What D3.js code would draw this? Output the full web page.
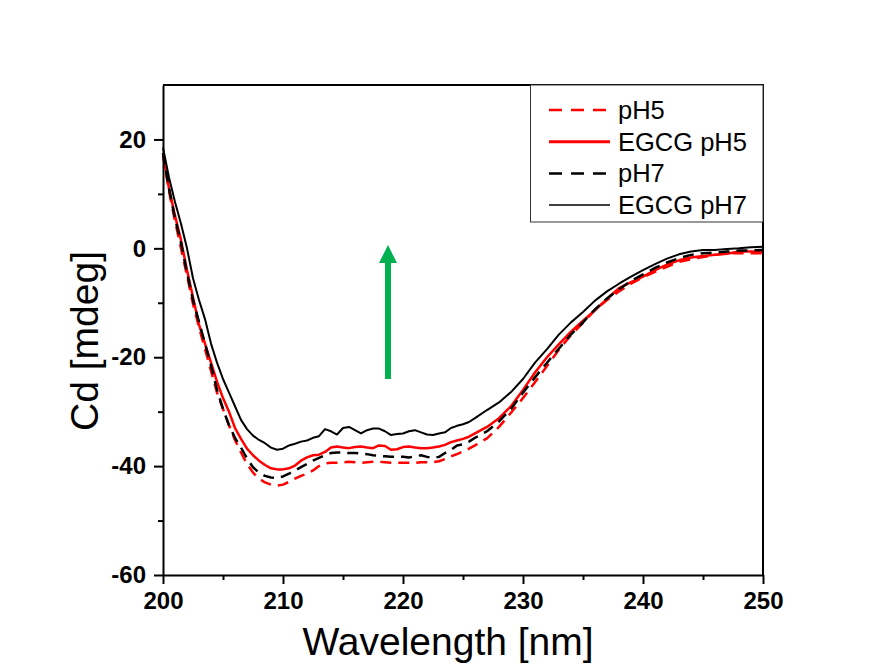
<!DOCTYPE html>
<html>
<head>
<meta charset="utf-8">
<script src="https://cdn.jsdelivr.net/npm/d3@7"></script>
<style>
    body { margin: 0; background: #fff; }
    text { font-family: "Liberation Sans", Arial, sans-serif; }
</style>
</head>
<body>
<div id="chart"></div>
<script>
// wavelength grid [nm]
const wavelength = [
    200, 200.5, 201, 201.5, 202, 202.5, 203, 203.5, 204, 204.5,
    205, 205.5, 206, 206.5, 207, 207.5, 208, 208.5, 209, 209.5,
    210, 210.5, 211, 211.5, 212, 212.5, 213, 213.5, 214, 214.5,
    215, 215.5, 216, 216.5, 217, 217.5, 218, 218.5, 219, 219.5,
    220, 220.5, 221, 221.5, 222, 222.5, 223, 223.5, 224, 224.5,
    225, 225.5, 226,
    227, 228, 229, 230, 231, 232, 233, 234, 235, 236, 237, 238,
    239, 240, 241, 242, 243, 244, 245, 246, 247, 248, 249, 250
];

// CD signal [mdeg] for each sample
const pH5 = [
    17, 10.5, 5, 0, -5, -10.2, -14.5, -18.5, -22.5, -26.5,
    -29.5, -32.5, -35.2, -37.5, -39.6, -41.2, -42.3, -43.0, -43.4, -43.6,
    -43.4, -42.9, -42.3, -41.8, -41.4, -40.8, -40.0, -39.5, -39.4, -39.4,
    -39.3, -39.2, -39.3, -39.4, -39.3, -39.2, -39.2, -39.3, -39.4, -39.4,
    -39.4, -39.4, -39.4, -39.3, -39.3, -39.3, -39.1, -38.7, -38.2, -37.8,
    -37.3, -36.8, -36.2,
    -34.9, -32.8, -30.2, -27.5, -24.6, -21.6, -18.6, -15.9, -13.7, -11.3, -9.5, -7.9,
    -6.5, -5.3, -4.3, -3.4, -2.5, -2.0, -1.6, -1.2, -0.9, -0.9, -0.9, -0.9
];
const egcgPH5 = [
    17.5, 11, 6, 1.5, -4, -9, -14, -17.5, -21, -24.5,
    -27.5, -30, -33, -35, -36.8, -38, -39, -39.8, -40.4, -40.6,
    -40.6, -40.4, -39.9, -39.0, -38.4, -38.0, -37.9, -37.4, -36.6, -36.4,
    -36.6, -36.7, -36.5, -36.4, -36.6, -36.7, -36.2, -36.3, -37.0, -36.9,
    -36.5, -36.4, -36.6, -36.7, -36.7, -36.6, -36.4, -36.1, -35.6, -35.3,
    -35.0, -34.6, -34.0,
    -32.8, -31.2, -29.0, -26.0, -22.8, -20.0, -17.6, -15.3, -13.3, -11.4, -9.3, -7.3,
    -6.2, -5.2, -4.0, -3.0, -2.2, -1.7, -1.4, -1.2, -1.0, -0.6, -0.6, -0.6
];
const pH7 = [
    17.5, 11, 5.5, 1, -4.5, -9.5, -13.5, -17.5, -21.5, -26,
    -29.5, -32.5, -34.8, -36.6, -38.6, -40.2, -41.2, -41.8, -42.1, -42.2,
    -41.9, -41.4, -40.8, -40.2, -39.6, -39.0, -38.5, -38.0, -37.6, -37.5,
    -37.5, -37.6, -37.6, -37.7, -37.8, -38.0, -38.1, -38.2, -38.3, -38.3,
    -38.3, -38.4, -38.2, -38.0, -38.3, -38.5, -38.3, -37.6, -37.0, -36.2,
    -36.0, -35.5, -34.8,
    -33.6, -31.8, -29.5, -26.5, -23.7, -21.0, -18.4, -15.8, -13.6, -11.2, -9.2, -7.5,
    -6.0, -4.8, -3.6, -2.6, -1.8, -1.2, -0.9, -0.8, -0.6, -0.4, -0.4, -0.3
];
const egcgPH7 = [
    18.5, 13, 8.5, 4.5, 0, -5.5, -9.5, -13, -17.5, -21,
    -24, -26.5, -29, -31.5, -33.2, -34.4, -35.2, -35.8, -36.6, -37.0,
    -36.8, -36.2, -35.9, -35.5, -35.3, -34.8, -34.5, -33.2, -33.6, -34.2,
    -33.0, -32.8, -33.4, -34.0, -33.4, -33.1, -33.1, -33.6, -34.3, -34.1,
    -34.0, -33.6, -33.4, -33.8, -34.2, -34.3, -34.0, -33.8, -33.0, -32.6,
    -32.3, -31.9, -31.2,
    -29.7, -28.3, -26.4, -24.0, -21.0, -18.5, -15.8, -13.6, -11.7, -9.6, -7.9, -6.5,
    -5.2, -4.0, -2.9, -1.9, -1.1, -0.6, -0.3, -0.3, -0.1, 0.0, 0.2, 0.3
];

const seriesNames = ['pH5', 'EGCG pH5', 'pH7', 'EGCG pH7'];
const seriesValues = [pH5, egcgPH5, pH7, egcgPH7];

// tick values
const xTicks = [200, 210, 220, 230, 240, 250];
const xMinorTicks = [205, 215, 225, 235, 245];
const yTicks = [-60, -40, -20, 0, 20];
const yMinorTicks = [-50, -30, -10, 10];

// green arrow annotation (wavelength, from, to)
const arrowX = 218.75;
const arrowFrom = -24;
const arrowTo = 0.6;

// line styles for each series
const styles = [
    {color: '#ff0000', width: 2.5, dash: '11,7', legendWidth: 2.5},
    {color: '#ff0000', width: 2.5, dash: null, legendWidth: 3},
    {color: '#000000', width: 2.5, dash: '11,7', legendWidth: 2.5},
    {color: '#000000', width: 2, dash: null, legendWidth: 1.5}
];

const options = {
    width: 872,
    height: 668,
    left: 163,
    right: 763,
    top: 85,
    bottom: 575
};

function draw(options) {
    const svg = d3.select('#chart')
        .append('svg')
        .attr('width', options.width)
        .attr('height', options.height);

    // scales
    const xScale = d3.scaleLinear()
        .domain([200, 250])
        .range([options.left, options.right]);

    const yScale = d3.scaleLinear()
        .domain([-60, 30])
        .range([options.bottom, options.top]);

    // curves
    const line = d3.line()
        .x(function (d) { return xScale(d[0]); })
        .y(function (d) { return yScale(d[1]); });

    svg.append('g')
        .selectAll('path')
        .data(seriesValues)
        .enter()
        .append('path')
        .attr('d', function (vals) {
            return line(wavelength.map(function (w, i) { return [w, vals[i]]; }));
        })
        .attr('fill', 'none')
        .attr('stroke', function (d, i) { return styles[i].color; })
        .attr('stroke-width', function (d, i) { return styles[i].width; })
        .attr('stroke-dasharray', function (d, i) { return styles[i].dash; })
        .attr('stroke-linejoin', 'round');

    // frame (top and right)
    svg.append('path')
        .attr('d', `M${options.left},${options.top}H${options.right}V${options.bottom}`)
        .attr('fill', 'none')
        .attr('stroke', '#000')
        .attr('stroke-width', 2);

    // plain hyphen for negative labels, like the original
    const plain = function (d) { return String(d); };

    // x axis
    const xAxis = svg.append('g')
        .attr('transform', `translate(0, ${options.bottom})`)
        .call(d3.axisBottom(xScale).tickValues(xTicks).tickFormat(plain).tickSize(9).tickSizeOuter(0).tickPadding(8));
    svg.append('g')
        .attr('transform', `translate(0, ${options.bottom})`)
        .call(d3.axisBottom(xScale).tickValues(xMinorTicks).tickSize(5).tickSizeOuter(0).tickFormat(''))
        .select('.domain').remove();

    // y axis
    const yAxis = svg.append('g')
        .attr('transform', `translate(${options.left}, 0)`)
        .call(d3.axisLeft(yScale).tickValues(yTicks).tickFormat(plain).tickSize(9).tickSizeOuter(0).tickPadding(8));
    svg.append('g')
        .attr('transform', `translate(${options.left}, 0)`)
        .call(d3.axisLeft(yScale).tickValues(yMinorTicks).tickSize(5).tickSizeOuter(0).tickFormat(''))
        .select('.domain').remove();

    svg.selectAll('.domain, .tick line')
        .attr('stroke', '#000')
        .attr('stroke-width', 2);

    [xAxis, yAxis].forEach(function (ax) {
        ax.selectAll('text')
            .style('font-family', '"Liberation Sans", Arial, sans-serif')
            .style('font-size', '24px')
            .style('font-weight', 'bold')
            .attr('fill', '#000');
    });

    // axis titles
    svg.append('text')
        .attr('x', 448)
        .attr('y', 655)
        .attr('text-anchor', 'middle')
        .style('font-size', '39px')
        .text('Wavelength [nm]');

    svg.append('text')
        .attr('transform', 'translate(98, 341) rotate(-90)')
        .attr('text-anchor', 'middle')
        .style('font-size', '39px')
        .text('Cd [mdeg]');

    // green arrow
    const ax = xScale(arrowX);
    const tipY = yScale(arrowTo);
    svg.append('line')
        .attr('x1', ax)
        .attr('x2', ax)
        .attr('y1', yScale(arrowFrom))
        .attr('y2', tipY + 16)
        .attr('stroke', '#00b050')
        .attr('stroke-width', 6);
    svg.append('path')
        .attr('d', `M${ax},${tipY}L${ax + 9},${tipY + 18}L${ax - 9},${tipY + 18}Z`)
        .attr('fill', '#00b050');

    // legend
    const legendBox = svg.append('g');
    legendBox.append('rect')
        .attr('x', 530.5)
        .attr('y', options.top)
        .attr('width', options.right - 530.5)
        .attr('height', 137)
        .attr('fill', '#fff')
        .attr('stroke', '#333')
        .attr('stroke-width', 1);

    const legend = legendBox.selectAll('.legend')
        .data(seriesNames)
        .enter().append('g')
        .attr('class', 'legend')
        .attr('transform', function (d, i) { return `translate(0, ${110 + i * 31.7})`; });

    legend.append('line')
        .attr('x1', 549)
        .attr('x2', 610)
        .attr('stroke', function (d, i) { return styles[i].color; })
        .attr('stroke-width', function (d, i) { return styles[i].legendWidth; })
        .attr('stroke-dasharray', function (d, i) { return styles[i].dash ? '13,9' : null; });

    legend.append('text')
        .attr('x', 618)
        .attr('y', 9)
        .style('font-size', '25.5px')
        .text(function (d) { return d; });
}

draw(options);
</script>
</body>
</html>
